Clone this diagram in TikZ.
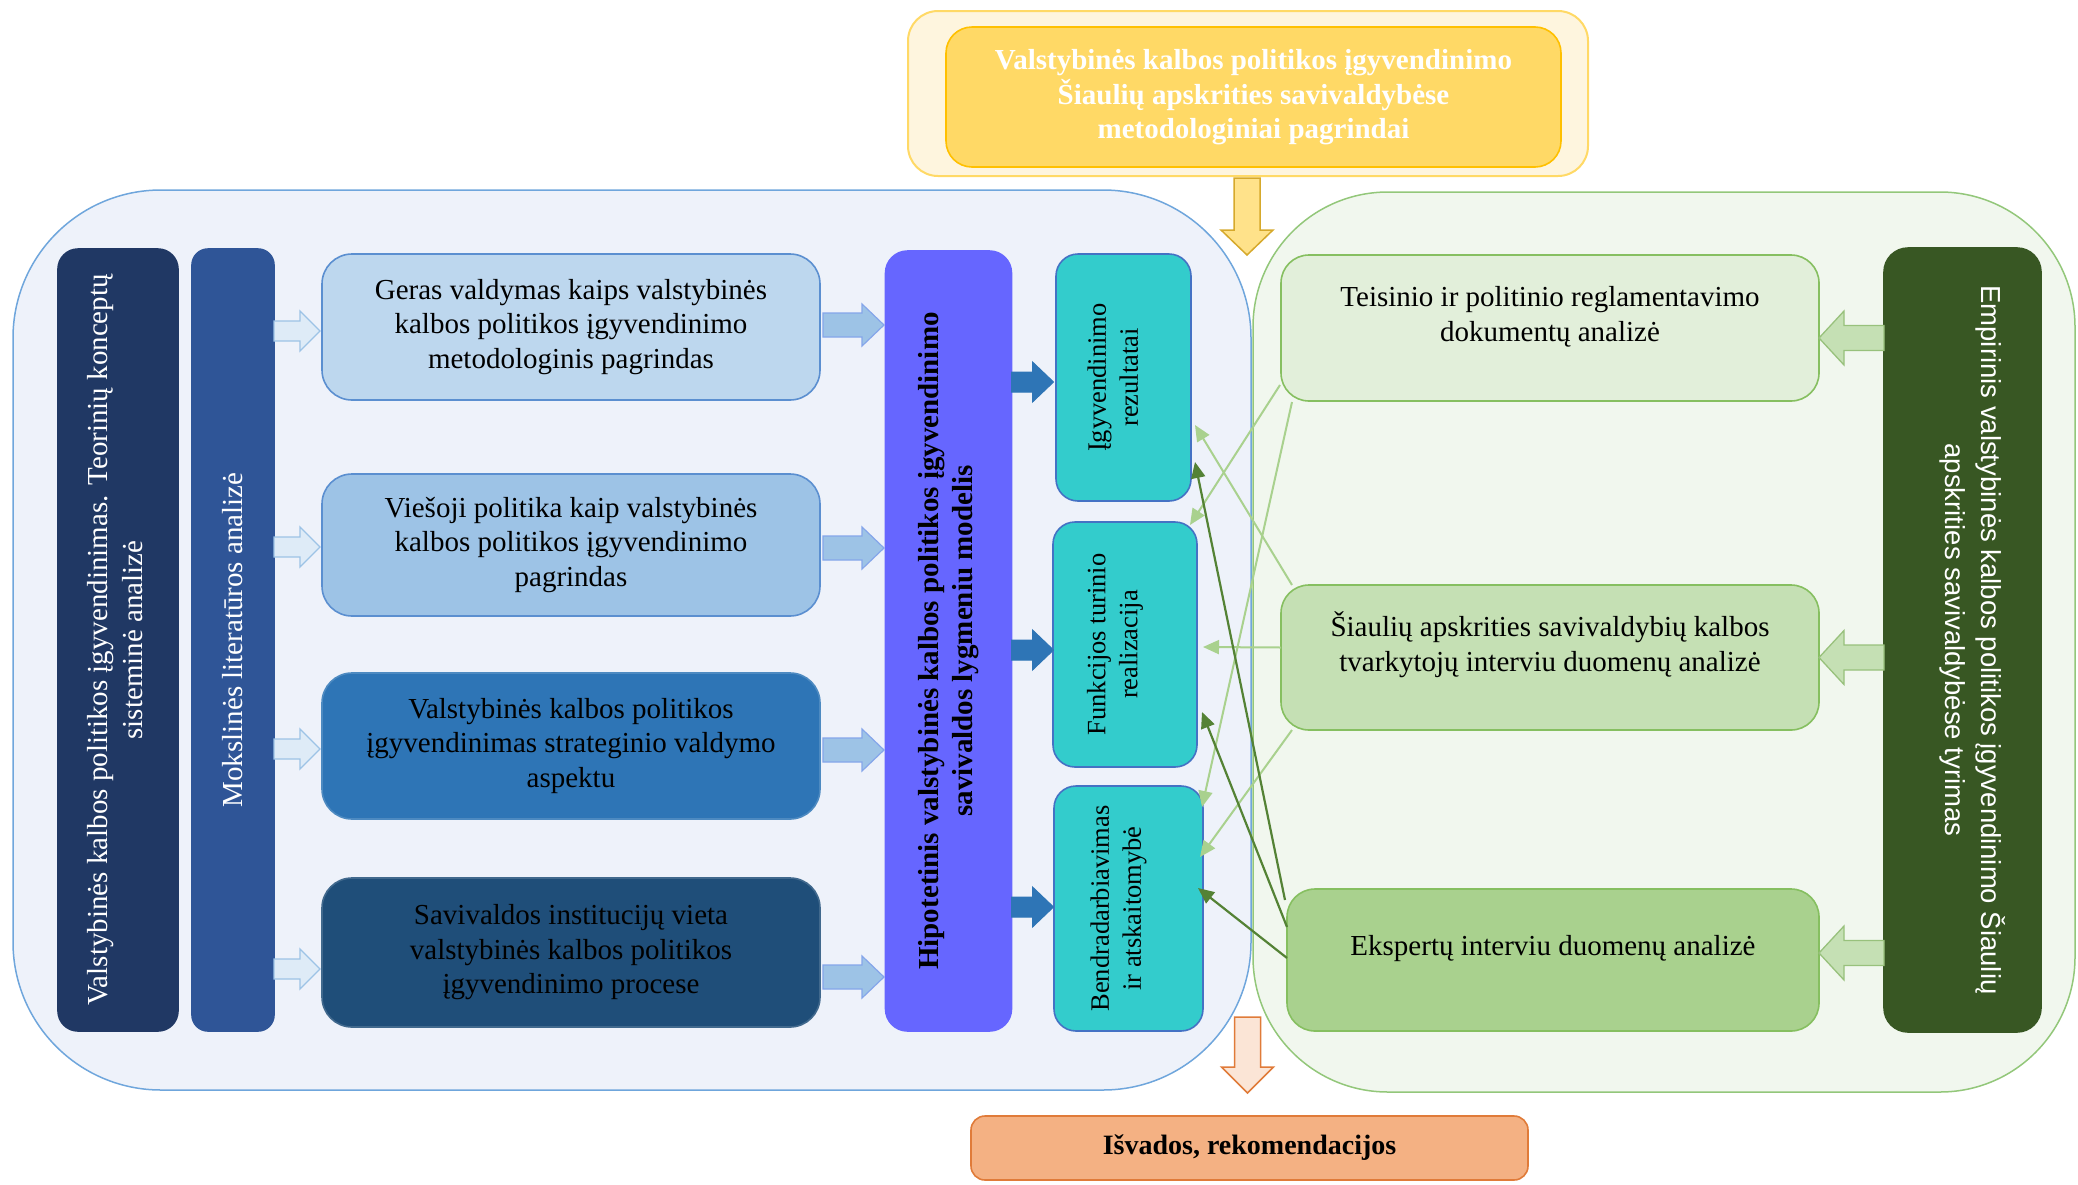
\documentclass[tikz,border=0pt]{standalone}
\usepackage{fontspec}
\setmainfont{Liberation Serif}
\newfontfamily\sansfont{Liberation Sans}
\usetikzlibrary{arrows.meta,calc}

\definecolor{contL}{HTML}{EEF2FA}
\definecolor{contLb}{HTML}{6FA6DC}
\definecolor{contR}{HTML}{F1F7EE}
\definecolor{contRb}{HTML}{93C77A}
\definecolor{yOut}{HTML}{FEF5DE}
\definecolor{yOutb}{HTML}{FFD966}
\definecolor{yIn}{HTML}{FFD966}
\definecolor{yInb}{HTML}{FFC000}
\definecolor{navyA}{HTML}{203864}
\definecolor{blueB}{HTML}{2F5597}
\definecolor{blA}{HTML}{BDD7EE}
\definecolor{blB}{HTML}{9DC3E6}
\definecolor{blC}{HTML}{2E75B6}
\definecolor{blD}{HTML}{1F4E79}
\definecolor{blBorder}{HTML}{5B8FD0}
\definecolor{purp}{HTML}{6666FF}
\definecolor{tealbox}{HTML}{33CCCC}
\definecolor{tealb}{HTML}{4472C4}
\definecolor{grA}{HTML}{E2EFDA}
\definecolor{grB}{HTML}{C5E0B4}
\definecolor{grC}{HTML}{A9D18E}
\definecolor{grBorder}{HTML}{86BF60}
\definecolor{dkgr}{HTML}{385723}
\definecolor{lgc}{HTML}{A9D18E}
\definecolor{dgc}{HTML}{548235}
\definecolor{orIn}{HTML}{F4B183}
\definecolor{orBorder}{HTML}{E07B39}
\definecolor{orAr}{HTML}{FBE5D6}
\definecolor{yAr}{HTML}{FFE28A}
\definecolor{yArb}{HTML}{D6A92C}
\definecolor{hollowAr}{HTML}{DEEBF7}

\newcommand{\mltext}[1]{\begin{tabular}{@{}c@{}}#1\end{tabular}}
\newcommand{\liftby}[2]{\raisebox{#1}[\height][\depth]{#2}}

\tikzset{
  pics/blockarrow/.style n args={5}{code={
    \path[#5] (0,-#2) -- (#1-#4,-#2) -- (#1-#4,-#3) -- (#1,0)
      -- (#1-#4,#3) -- (#1-#4,#2) -- (0,#2) -- cycle;
  }},
  boxbase/.style={inner sep=0pt, outer sep=0pt, line width=1.6pt,
    font=\fontsize{29}{34.5}\selectfont},
  container/.style={boxbase, line width=1.5pt},
  topic/.style={boxbase, rounded corners=30pt, draw=blBorder,
    minimum width=498pt},
  stage/.style={boxbase, fill=tealbox, draw=tealb, rounded corners=22pt,
    font=\fontsize{26.5}{32}\selectfont},
  method/.style={boxbase, draw=grBorder, rounded corners=28pt},
  lightlink/.style={draw=lgc, line width=2pt,
    -{Triangle[length=16pt,width=14pt]}},
  darklink/.style={draw=dgc, line width=2.2pt,
    -{Triangle[length=16pt,width=14pt]}},
  hollowstyle/.style={fill=hollowAr, draw=blB, line width=1.3pt},
  paleblue/.style={fill=blB, draw=blB!85!blue, line width=1.2pt},
  solidblue/.style={fill=blC, draw=blC, line width=1pt},
  greenleft/.style={fill=grB, draw=grC!80!dgc, line width=1.3pt},
  yellowdown/.style={fill=yAr, draw=yArb, line width=1.5pt},
  orangedown/.style={fill=orAr, draw=orBorder, line width=1.5pt}
}

\begin{document}
\begin{tikzpicture}[x=1pt,y=-1pt]
\useasboundingbox (0,0) rectangle (2078,1184);

% the two large areas
\node[container, fill=contL, draw=contLb, minimum width=1238pt,
  minimum height=900pt, rounded corners=148pt] (left) at (632,640) {};
\node[container, fill=contR, draw=contRb, minimum width=822pt,
  minimum height=900pt, rounded corners=135pt] (right) at (1664,642) {};

% heading block
\node[container, fill=yOut, draw=yOutb, line width=2pt, minimum width=680pt,
  minimum height=165pt, rounded corners=30pt] (yout) at (1248,93.5) {};
\node[boxbase, fill=yIn, draw=yInb, minimum width=615pt, minimum height=140pt,
  rounded corners=26pt, text=white, font=\fontsize{29}{34}\selectfont\bfseries]
  (yin) at (1253.5,97)
  {\mltext{Valstybinės kalbos politikos įgyvendinimo\\
           Šiaulių apskrities savivaldybėse\\
           metodologiniai pagrindai}};

% theory column
\node[boxbase, fill=navyA, draw=navyA, rounded corners=20pt, minimum width=120pt,
  minimum height=782pt, text=white] (A) at (118,640)
  {\rotatebox{90}{\mltext{Valstybinės kalbos politikos įgyvendinimas. Teorinių konceptų\\
                          sisteminė analizė}}};
\node[boxbase, fill=blueB, draw=blueB, rounded corners=16pt, minimum width=82pt,
  minimum height=782pt, text=white] (B) at (233,640)
  {\rotatebox{90}{Mokslinės literatūros analizė}};

\node[topic, fill=blA, minimum height=146pt] (c1) at (571,327)
  {\mltext{Geras valdymas kaips valstybinės\\
           kalbos politikos įgyvendinimo\\
           metodologinis pagrindas}};
\node[topic, fill=blB, minimum height=142pt] (c2) at (571,545)
  {\mltext{Viešoji politika kaip valstybinės\\
           kalbos politikos įgyvendinimo\\
           pagrindas}};
\node[topic, fill=blC, draw=blC!85!white, minimum height=146pt] (c3) at (571,746)
  {\mltext{Valstybinės kalbos politikos\\
           įgyvendinimas strateginio valdymo\\
           aspektu}};
\node[topic, fill=blD, draw=blD!85!white, minimum height=149pt] (c4) at (571,952.5)
  {\mltext{Savivaldos institucijų vieta\\
           valstybinės kalbos politikos\\
           įgyvendinimo procese}};

\node[boxbase, fill=purp, draw=purp, rounded corners=22pt, minimum width=126pt,
  minimum height=780pt, font=\fontsize{29}{34.5}\selectfont\bfseries]
  (P) at (948.5,641)
  {\rotatebox{90}{\mltext{Hipotetinis valstybinės kalbos politikos įgyvendinimo\\
                          savivaldos lygmeniu modelis}}};

\node[stage, minimum width=135pt, minimum height=247pt] (T1) at (1123.5,377.5)
  {\rotatebox{90}{\liftby{8pt}{\mltext{Įgyvendinimo\\rezultatai}}}};
\node[stage, minimum width=144pt, minimum height=245pt] (T2) at (1125,644.5)
  {\rotatebox{90}{\liftby{10pt}{\mltext{Funkcijos turinio\\realizacija}}}};
\node[stage, minimum width=149pt, minimum height=245pt] (T3) at (1128.5,908.5)
  {\rotatebox{90}{\liftby{10pt}{\mltext{Bendradarbiavimas\\ir atskaitomybė}}}};

% empirical column
\node[method, fill=grA, minimum width=538pt, minimum height=146pt] (G1) at (1550,328)
  {\liftby{11pt}{\mltext{Teisinio ir politinio reglamentavimo\\dokumentų analizė}}};
\node[method, fill=grB, minimum width=538pt, minimum height=145pt] (G2) at (1550,657.5)
  {\liftby{11pt}{\mltext{Šiaulių apskrities savivaldybių kalbos\\
                         tvarkytojų interviu duomenų analizė}}};
\node[method, fill=grC, minimum width=532pt, minimum height=142pt] (G3) at (1553,960)
  {\liftby{11pt}{Ekspertų interviu duomenų analizė}};

\node[boxbase, fill=dkgr, draw=dkgr, rounded corners=24pt, minimum width=157pt,
  minimum height=784pt, text=white, font=\sansfont\fontsize{27.5}{36}\selectfont]
  (DG) at (1962.5,640)
  {\rotatebox{-90}{\liftby{8.5pt}{\mltext{Empirinis valstybinės kalbos politikos įgyvendinimo Šiaulių\\
                                         apskrities savivaldybėse tyrimas}}}};

% result block
\node[boxbase, fill=orIn, draw=orBorder, minimum width=557pt, minimum height=64pt,
  rounded corners=14pt, font=\fontsize{28}{34}\selectfont\bfseries]
  (out) at (1249.5,1148) {Išvados, rekomendacijos};

% block arrows
\pic[rotate=-90] at ($(yout.south)+(-1,2)$) {blockarrow={77}{13}{26}{25}{yellowdown}};
\pic[rotate=-90] at ($(out.north)+(-2,-99)$) {blockarrow={76}{13}{26}{26}{orangedown}};

\pic at ($(B.east |- c1.west)+(0,4)$) {blockarrow={46}{10}{20}{20}{hollowstyle}};
\pic at ($(B.east |- c2.west)+(0,2)$) {blockarrow={46}{10}{20}{20}{hollowstyle}};
\pic at ($(B.east |- c3.west)+(0,3)$) {blockarrow={46}{10}{20}{20}{hollowstyle}};
\pic at ($(B.east |- c4.west)+(0,16.5)$) {blockarrow={46}{10}{20}{20}{hollowstyle}};

\pic at ($(c1.east)+(3,-2)$) {blockarrow={61}{12}{21}{22}{paleblue}};
\pic at ($(c2.east)+(3,3)$) {blockarrow={61}{12}{21}{22}{paleblue}};
\pic at ($(c3.east)+(3,4)$) {blockarrow={61}{12}{21}{22}{paleblue}};
\pic at ($(c4.east)+(3,24.5)$) {blockarrow={61}{12}{21}{22}{paleblue}};

\pic at ($(P.east |- T1.east)+(0,4.5)$) {blockarrow={42}{10}{20}{21}{solidblue}};
\pic at ($(P.east |- T2.east)+(0,5.5)$) {blockarrow={42}{10}{20}{21}{solidblue}};
\pic at ($(P.east |- T3.east)+(0,-1.5)$) {blockarrow={42}{10}{20}{21}{solidblue}};

\pic[rotate=180] at ($(DG.west |- G1.east)+(0,10)$) {blockarrow={65}{12.5}{27}{25}{greenleft}};
\pic[rotate=180] at ($(DG.west |- G2.east)+(0,0)$) {blockarrow={65}{12.5}{27}{25}{greenleft}};
\pic[rotate=180] at ($(DG.west |- G3.east)+(0,-7)$) {blockarrow={65}{12.5}{27}{25}{greenleft}};

% links from the analyses to the model stages
\draw[lightlink] ($(G1.south west)+(-1,-16)$) -- ($(T2.north east)+(-7,3)$);
\draw[lightlink] ($(G1.south west)+(11,1)$) -- ($(T3.east)+(-1,-101.5)$);
\draw[lightlink] ($(G2.north west)+(11,0)$) -- ($(T1.east)+(4,47.5)$);
\draw[lightlink] ($(G2.west)+(0,-10)$) -- ($(T2.east)+(6,2.5)$);
\draw[lightlink] ($(G2.south west)+(11,0)$) -- ($(T3.east)+(-3,-51.5)$);
\draw[darklink] ($(G3.north west)+(-2,11)$) -- ($(T1.east)+(4,84.5)$);
\draw[darklink] ($(G3.north west)+(0,38)$) -- ($(T2.east)+(5,67.5)$);
\draw[darklink] ($(G3.west)+(0,-2)$) -- ($(T3.east)+(-5,-20.5)$);
\end{tikzpicture}
\end{document}
